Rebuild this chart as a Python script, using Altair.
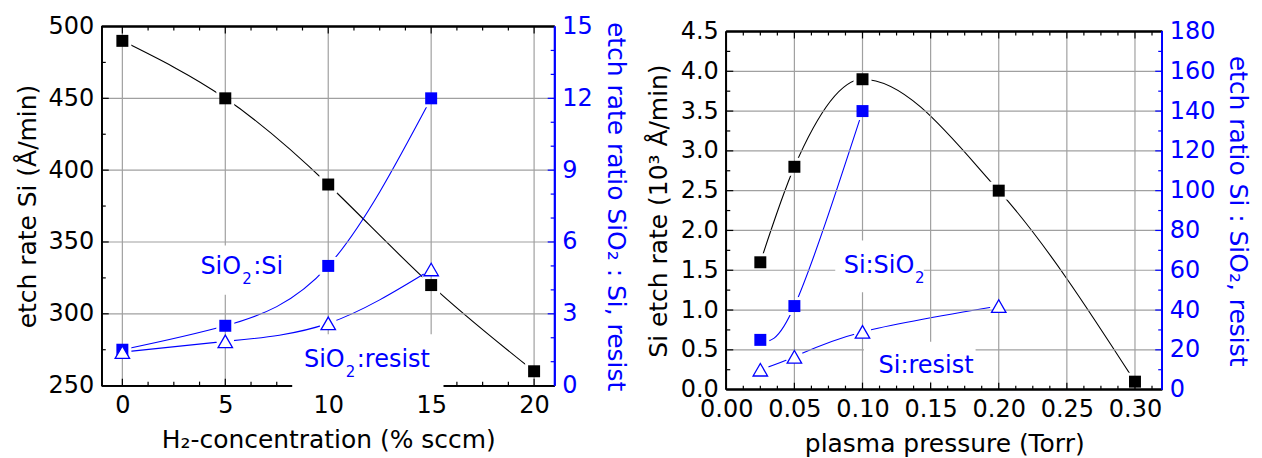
import altair as alt
import pandas as pd

FONT = "DejaVu Sans"
BLUE = "#0000ff"
GRID = "#a0a0a0"
FS = 24
TITLE_FS = 25
SUB_FS = 15

# ---------------- Left panel: etch rate vs H2 concentration ----------------
h2_conc = [0, 5, 10, 15, 20]
si_rate = [490, 450, 390, 320, 260]
h2_ratio_conc = [0, 5, 10, 15]
ratio_sio2_si = [1.5, 2.5, 5.0, 12.0]
ratio_sio2_resist = [1.4, 1.85, 2.6, 4.85]

# ---------------- Right panel: etch rate vs plasma pressure ----------------
pressure = [0.025, 0.05, 0.1, 0.2, 0.3]
si_rate_k = [1.6, 2.8, 3.9, 2.5, 0.1]
pressure_sio2 = [0.025, 0.05, 0.1]
ratio_si_sio2 = [25, 42, 140]
pressure_resist = [0.025, 0.05, 0.1, 0.2]
ratio_si_resist = [10, 16.5, 29, 42]

# ---------------- Axis tick values ----------------
left_x_major = [0, 5, 10, 15, 20]
left_x_minor = [1.25, 2.5, 3.75, 6.25, 7.5, 8.75, 11.25, 12.5, 13.75, 16.25, 17.5, 18.75]
left_yl_major = [250, 300, 350, 400, 450, 500]
left_yl_minor = [275, 325, 375, 425, 475]
left_yr_major = [0, 3, 6, 9, 12, 15]
left_yr_minor = [1, 2, 4, 5, 7, 8, 10, 11, 13, 14]

right_x_major = [0.0, 0.05, 0.10, 0.15, 0.20, 0.25, 0.30]
right_x_minor = [0.0125, 0.025, 0.0375, 0.0625, 0.075, 0.0875, 0.1125, 0.125, 0.1375,
                 0.1625, 0.175, 0.1875, 0.2125, 0.225, 0.2375, 0.2625, 0.275, 0.2875, 0.3125]
right_yl_major = [0.0, 0.5, 1.0, 1.5, 2.0, 2.5, 3.0, 3.5, 4.0, 4.5]
right_yl_minor = [0.25, 0.75, 1.25, 1.75, 2.25, 2.75, 3.25, 3.75, 4.25]
right_yr_major = [0, 20, 40, 60, 80, 100, 120, 140, 160, 180]
right_yr_minor = [10, 30, 50, 70, 90, 110, 130, 150, 170]

# ---------------- Annotation labels (anchor in ratio-axis units) ----------------
# left: "SiO₂:Si" and "SiO₂:resist", written as pieces so the subscript sits low
left_label_x = [3.79, 8.82]
left_label_y = [4.65, 0.77]
left_label_head = ["SiO", "SiO"]
left_label_sub = ["2", "2"]
left_label_tail = [":Si", ":resist"]
left_box_x = [3.5, 8.25]
left_box_x2 = [8.15, 15.6]
left_box_y = [3.8, -0.3]
left_box_y2 = [5.85, 2.15]

# right: "Si:SiO₂" and "Si:resist"
right_label_x = [0.0862, 0.1118]
right_label_y = [58.5, 8.4]
right_label_head = ["Si:SiO", "Si:resist"]
right_label_sub = ["2", ""]
right_box_x = [0.080, 0.101]
right_box_x2 = [0.145, 0.183]
right_box_y = [49, 4]
right_box_y2 = [75, 24]


def inner(vals, dom):
    return [v for v in vals if dom[0] < v < dom[1]]


def panel(c):
    W, H, T = c["W"], c["H"], c["T"]
    X = alt.X("x:Q", scale=alt.Scale(domain=c["xdom"], nice=False, zero=False),
              axis=alt.Axis(title=c["xtitle"], values=c["x_major"], format=c["xfmt"],
                            grid=False, domain=False, ticks=False, labelPadding=8,
                            titlePadding=10, labelFlush=False, labelOverlap=False))

    def YL(axis=None):
        return alt.Y("y:Q", scale=alt.Scale(domain=c["ldom"], range=[H, T], nice=False, zero=False),
                     axis=axis)

    def YR(axis=None):
        return alt.Y("y:Q", scale=alt.Scale(domain=c["rdom"], range=[H, T], nice=False, zero=False),
                     axis=axis)

    laxis = alt.Axis(orient="left", title=c["ltitle"], values=c["l_major"], format=c["lfmt"],
                     grid=False, domain=False, ticks=False, labelPadding=8,
                     titlePadding=c["ltp"], labelFlush=False, labelOverlap=False)
    raxis = alt.Axis(orient="right", title=c["rtitle"], values=c["r_major"], format="d",
                     grid=False, domain=False, ticks=False, labelPadding=7, titlePadding=10,
                     labelColor=BLUE, titleColor=BLUE, labelFlush=False, labelOverlap=False)

    main = pd.DataFrame({"x": c["main_x"], "y": c["main_y"]})
    sq = pd.DataFrame({"x": c["sq_x"], "y": c["sq_y"]})
    tri = pd.DataFrame({"x": c["tri_x"], "y": c["tri_y"]})

    layers = []
    # data lines
    layers.append(alt.Chart(main).mark_line(interpolate=c["black_interp"], color="black", strokeWidth=1.1)
                  .encode(x=X, y=YL(laxis)))
    layers.append(alt.Chart(sq).mark_line(interpolate="natural", color=BLUE, strokeWidth=1.1)
                  .encode(x=X, y=YR(raxis)))
    layers.append(alt.Chart(tri).mark_line(interpolate="natural", color=BLUE, strokeWidth=1.1)
                  .encode(x=X, y=YR()))
    # white halos (gap between line and symbol)
    layers.append(alt.Chart(main).mark_point(shape="square", filled=True, color="white", size=324, opacity=1)
                  .encode(x=X, y=YL()))
    layers.append(alt.Chart(sq).mark_point(shape="square", filled=True, color="white", size=324, opacity=1)
                  .encode(x=X, y=YR()))
    layers.append(alt.Chart(tri).mark_point(shape="circle", filled=True, color="white", size=314, opacity=1)
                  .encode(x=X, y=YR()))
    # grid
    layers.append(alt.Chart(pd.DataFrame({"x": inner(c["x_major"], c["xdom"])}))
                  .mark_rule(color=GRID, strokeWidth=1.2)
                  .encode(x=X, y=alt.value(T), y2=alt.value(H)))
    layers.append(alt.Chart(pd.DataFrame({"y": inner(c["l_major"], c["ldom"])}))
                  .mark_rule(color=GRID, strokeWidth=1.2)
                  .encode(y=YL(), x=alt.value(0), x2=alt.value(W)))
    # frame
    layers.append(alt.Chart(main).mark_rule(color="black", strokeWidth=1.5)
                  .encode(x=alt.value(0), x2=alt.value(W), y=alt.value(T)))
    layers.append(alt.Chart(main).mark_rule(color="black", strokeWidth=1.5)
                  .encode(x=alt.value(0), x2=alt.value(W), y=alt.value(H)))
    layers.append(alt.Chart(main).mark_rule(color="black", strokeWidth=1.5)
                  .encode(x=alt.value(0), y=alt.value(T), y2=alt.value(H)))
    layers.append(alt.Chart(main).mark_rule(color=BLUE, strokeWidth=1.5)
                  .encode(x=alt.value(W), y=alt.value(T), y2=alt.value(H)))
    # inward ticks
    for vals, ln in ((inner(c["x_major"], c["xdom"]), 7), (c["x_minor"], 4)):
        df = pd.DataFrame({"x": vals})
        layers.append(alt.Chart(df).mark_rule(color="black", strokeWidth=1.2)
                      .encode(x=X, y=alt.value(T), y2=alt.value(T + ln)))
        layers.append(alt.Chart(df).mark_rule(color="black", strokeWidth=1.2)
                      .encode(x=X, y=alt.value(H), y2=alt.value(H - ln)))
    for vals, ln in ((inner(c["l_major"], c["ldom"]), 7), (c["l_minor"], 4)):
        layers.append(alt.Chart(pd.DataFrame({"y": vals})).mark_rule(color="black", strokeWidth=1.2)
                      .encode(y=YL(), x=alt.value(0), x2=alt.value(ln)))
    for vals, ln in ((inner(c["r_major"], c["rdom"]), 7), (c["r_minor"], 4)):
        layers.append(alt.Chart(pd.DataFrame({"y": vals})).mark_rule(color=BLUE, strokeWidth=1.2)
                      .encode(y=YR(), x=alt.value(W), x2=alt.value(W - ln)))
    # label boxes + labels
    boxes = pd.DataFrame({"x": c["box_x"], "x2": c["box_x2"], "y": c["box_y"], "y2": c["box_y2"]})
    layers.append(alt.Chart(boxes).mark_rect(color="white", opacity=1)
                  .encode(x=X, x2="x2:Q", y=YR(), y2="y2:Q"))
    for texts, dx, dy, fs in c["pieces"]:
        labs = pd.DataFrame({"x": c["lab_x"], "y": c["lab_y"], "label": texts})
        layers.append(alt.Chart(labs).mark_text(align="left", baseline="alphabetic", font=FONT,
                                                fontSize=fs, color=BLUE, dx=dx, dy=dy)
                      .encode(x=X, y=YR(), text="label:N"))
    # symbols
    layers.append(alt.Chart(main).mark_point(shape="square", filled=True, color="black", size=144, opacity=1)
                  .encode(x=X, y=YL()))
    layers.append(alt.Chart(sq).mark_point(shape="square", filled=True, color=BLUE, size=144, opacity=1)
                  .encode(x=X, y=YR()))
    layers.append(alt.Chart(tri).mark_point(shape="triangle-up", filled=True, fill="white", stroke=BLUE,
                                            strokeWidth=1.3, size=210, opacity=1)
                  .encode(x=X, y=YR()))

    return alt.layer(*layers).resolve_scale(y="independent").properties(width=W, height=H)


left = panel(dict(
    W=454, H=360, T=0, xdom=[-1, 21], xtitle="H₂-concentration (% sccm)", xfmt="d",
    x_major=left_x_major, x_minor=left_x_minor,
    ldom=[250, 500], l_major=left_yl_major, l_minor=left_yl_minor,
    ltitle="etch rate Si (Å/min)", lfmt="d", ltp=8,
    rdom=[0, 15], r_major=left_yr_major, r_minor=left_yr_minor,
    rtitle="etch rate ratio SiO₂ : Si, resist",
    main_x=h2_conc, main_y=si_rate, sq_x=h2_ratio_conc, sq_y=ratio_sio2_si,
    tri_x=h2_ratio_conc, tri_y=ratio_sio2_resist, black_interp="natural",
    lab_x=left_label_x, lab_y=left_label_y,
    pieces=[(left_label_head, 0, 0, FS), (left_label_sub, 42, 10, SUB_FS), (left_label_tail, 53, 0, FS)],
    box_x=left_box_x, box_x2=left_box_x2, box_y=left_box_y, box_y2=left_box_y2,
))

right = panel(dict(
    W=437, H=364, T=5, xdom=[0, 0.32], xtitle="plasma pressure (Torr)", xfmt=".2f",
    x_major=right_x_major, x_minor=right_x_minor,
    ldom=[0, 4.5], l_major=right_yl_major, l_minor=right_yl_minor,
    ltitle="Si etch rate (10³ Å/min)", lfmt=".1f", ltp=9,
    rdom=[0, 180], r_major=right_yr_major, r_minor=right_yr_minor,
    rtitle="etch ratio Si : SiO₂, resist",
    main_x=pressure, main_y=si_rate_k, sq_x=pressure_sio2, sq_y=ratio_si_sio2,
    tri_x=pressure_resist, tri_y=ratio_si_resist, black_interp="monotone",
    lab_x=right_label_x, lab_y=right_label_y,
    pieces=[(right_label_head, 0, 0, FS), (right_label_sub, 71.5, 10, SUB_FS)],
    box_x=right_box_x, box_x2=right_box_x2, box_y=right_box_y, box_y2=right_box_y2,
))

chart = (
    alt.hconcat(left, right, spacing=18)
    .properties(padding={"left": 7, "top": 6, "right": 4, "bottom": 0}, background="white")
    .configure_axis(labelFont=FONT, titleFont=FONT, labelFontSize=FS, titleFontSize=TITLE_FS,
                    titleFontWeight="normal", labelColor="black", titleColor="black")
    .configure_view(strokeWidth=0)
)

chart.save("out.html", embed_options={"renderer": "svg", "actions": False})
